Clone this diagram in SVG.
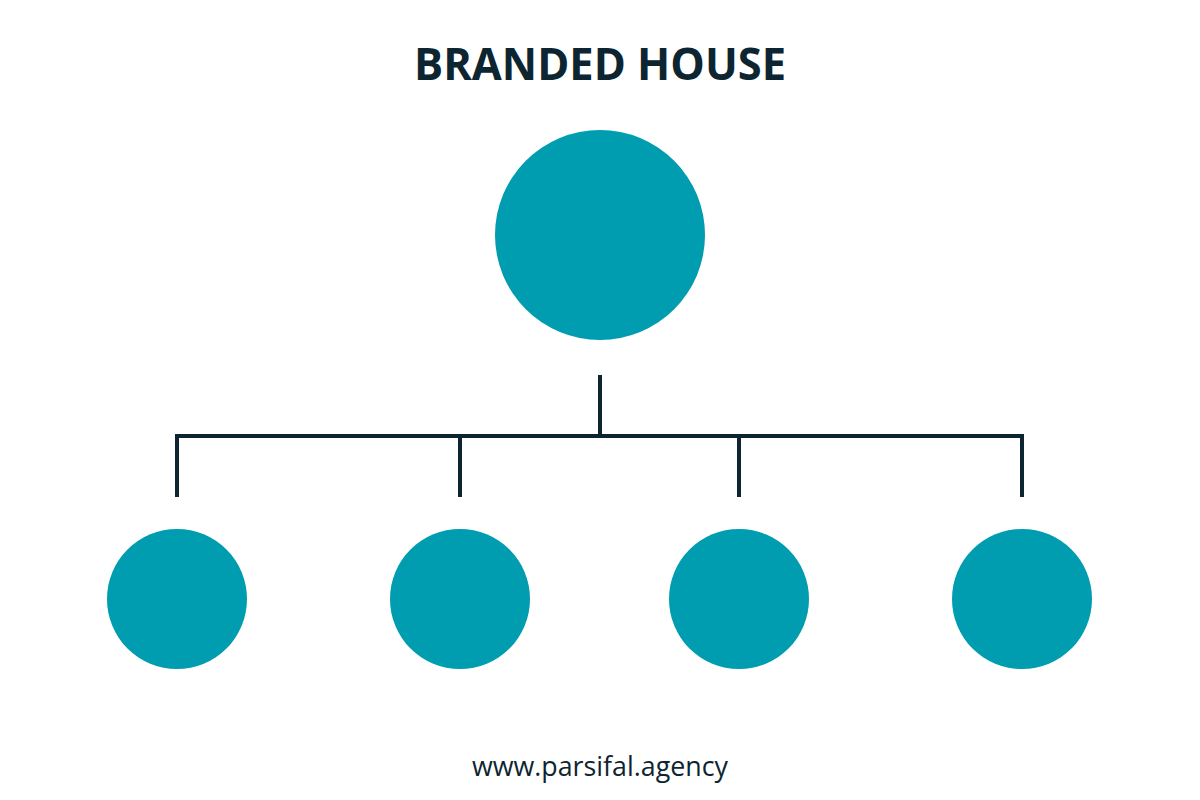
<svg xmlns="http://www.w3.org/2000/svg" width="1200" height="800" viewBox="0 0 1200 800">
<style>
.node{fill:#009cb0}
.conn{stroke:#0d2530;stroke-width:4;fill:none;stroke-linecap:butt}
.title{font-family:"Open Sans","Noto Sans",sans-serif;font-weight:bold;font-size:44px;fill:#0d2530;text-anchor:middle}
.foot{font-family:"Open Sans","Noto Sans",sans-serif;font-size:27px;fill:#0d2530;text-anchor:middle}
</style>
<rect width="1200" height="800" fill="#ffffff"/>
<text class="title" x="600" y="80" textLength="372" lengthAdjust="spacingAndGlyphs">BRANDED HOUSE</text>
<g id="connectors">
<path class="conn" d="M600 375 V436"/>
<path class="conn" d="M175 436 H1024"/>
<path class="conn" d="M177 434 V497"/>
<path class="conn" d="M460 434 V497"/>
<path class="conn" d="M739 434 V497"/>
<path class="conn" d="M1022 434 V497"/>
</g>
<g id="parent"><circle class="node" cx="600" cy="235" r="105"/></g>
<g id="child1"><circle class="node" cx="177" cy="599" r="70"/></g>
<g id="child2"><circle class="node" cx="460" cy="599" r="70"/></g>
<g id="child3"><circle class="node" cx="739" cy="599" r="70"/></g>
<g id="child4"><circle class="node" cx="1022" cy="599" r="70"/></g>
<text class="foot" x="600" y="776" textLength="256" lengthAdjust="spacingAndGlyphs">www.parsifal.agency</text>
</svg>
